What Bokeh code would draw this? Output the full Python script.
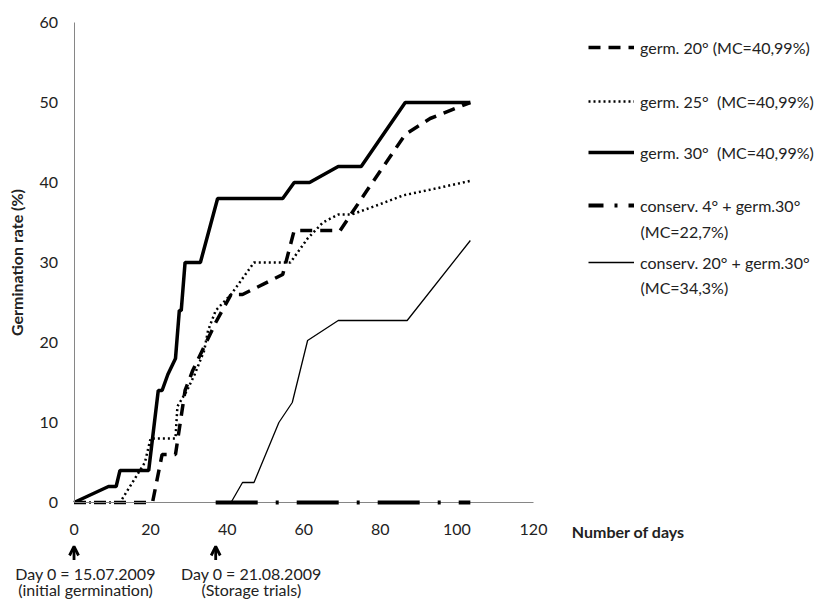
from bokeh.plotting import figure
from bokeh.models import (Range1d, Legend, LegendItem, Label, Arrow, OpenHead,
                          LinearAxis, FixedTicker)
from bokeh.embed import file_html
from bokeh.resources import INLINE

# ---- data ----
days_g20 = [0, 20.5, 23, 26.5, 29, 31, 37, 41, 44, 54.5, 57.5, 69.5, 76.5, 86.5, 93, 103.5]
rate_g20 = [0, 0, 6, 6, 14, 16.5, 22.5, 26, 26, 28.5, 34, 34, 39, 46, 48, 50]

days_g25 = [0, 12, 18.5, 20, 26.5, 27, 29.5, 31.5, 34, 35, 37, 41, 47, 56.5, 61, 65, 69, 72.5, 80, 86, 94, 103.5]
rate_g25 = [0, 0, 5, 8, 8, 12, 14, 16, 19, 21.5, 24, 26, 30, 30, 33, 35, 36, 36, 37.3, 38.4, 39.2, 40.2]

days_g30 = [0, 9, 11, 12, 19.5, 20.5, 22, 23, 24.5, 26.5, 27.5, 28, 29, 33, 37.5, 54.5, 57.5, 61.5, 69, 75, 86.5, 103.5]
rate_g30 = [0, 2, 2, 4, 4, 8, 14, 14, 16, 18, 24, 24, 30, 30, 38, 38, 40, 40, 42, 42, 50, 50]

days_c4 = [37, 44, 47, 53.5, 57, 61, 69, 87, 103.5]
rate_c4 = [0, 0, 0, 0, 0, 0, 0, 0, 0]

days_c20 = [37, 41, 44, 47, 53.5, 57, 61, 69, 87, 103.5]
rate_c20 = [0, 0, 2.5, 2.5, 10, 12.5, 20.25, 22.75, 22.75, 32.75]

x_ticks = [0, 20, 40, 60, 80, 100, 120]
y_ticks = [0, 10, 20, 30, 40, 50, 60]

labels = ["germ. 20° (MC=40,99%)",
          "germ. 25°  (MC=40,99%)",
          "germ. 30°  (MC=40,99%)",
          "conserv. 4° + germ.30°",
          "conserv. 20° + germ.30°"]
labels_2nd = ["(MC=22,7%)", "(MC=34,3%)"]

day0_x = [0, 37]
day0_line1 = ["Day 0 = 15.07.2009", "Day 0 = 21.08.2009"]
day0_line2 = ["(initial germination)", "(Storage trials)"]

FONT = "Lato"
TXT = "#222222"
NAN = float("nan")

# The frame covers the whole canvas; the axes sit at fixed data locations so that
# texts placed outside the axes (legend, notes) are not clipped.
p = figure(frame_width=816, frame_height=600, output_backend="svg", toolbar_location=None,
           x_range=Range1d(-19.2, 193.9), y_range=Range1d(-12.25, 62.75),
           x_axis_location=None, y_axis_location=None,
           min_border_left=0, min_border_right=0, min_border_top=0, min_border_bottom=0)

p.xgrid.grid_line_color = None
p.ygrid.grid_line_color = None
p.outline_line_color = None
p.background_fill_color = "white"

xa = LinearAxis(fixed_location=0, bounds=(0, 120), ticker=FixedTicker(ticks=x_ticks))
ya = LinearAxis(fixed_location=0, bounds=(0, 60), ticker=FixedTicker(ticks=y_ticks))
for ax in (xa, ya):
    ax.axis_line_color = "#868686"
    ax.axis_line_width = 1
    ax.major_tick_line_color = None
    ax.minor_tick_line_color = None
    ax.major_tick_out = 0
    ax.major_tick_in = 0
    ax.major_label_text_font = FONT
    ax.major_label_text_font_size = "16px"
    ax.major_label_text_color = TXT
xa.major_label_standoff = 21
ya.major_label_standoff = 16
ya.axis_label = "Germination rate (%)"
ya.axis_label_text_font = FONT
ya.axis_label_text_font_style = "bold"
ya.axis_label_text_font_size = "16px"
ya.axis_label_text_color = TXT
ya.axis_label_standoff = 11
p.add_layout(xa, "below")
p.add_layout(ya, "left")

# ---- series ----
r5 = p.line(days_c20, rate_c20, line_color="black", line_width=1.3)
r4 = p.line(days_c4, rate_c4, line_color="black", line_width=4, line_dash="42 18 3 18",
            level="overlay")
r2 = p.line(days_g25, rate_g25, line_color="black", line_width=2.5, line_dash="2 3")
r1 = p.line(days_g20, rate_g20, line_color="black", line_width=3.5, line_dash="12 8")
r3 = p.line(days_g30, rate_g30, line_color="black", line_width=3.5)

# legend-only sample for the dash-dot series (shorter pattern as in the reference);
# it draws nothing in the plot area
r4_leg = p.line([NAN], [NAN], line_color="black", line_width=4, line_dash="15 11 3 11")

# ---- legend (one box per entry, right of the plot area) ----
leg_rends = [r1, r2, r3, r4_leg, r5]
leg_y = [543, 489, 438, 385, 328]
for rend, lab, vy in zip(leg_rends, labels, leg_y):
    leg = Legend(items=[LegendItem(label=lab, renderers=[rend])], location=(588, vy),
                 border_line_color=None, background_fill_alpha=0, padding=0, margin=0,
                 spacing=0, glyph_width=46, glyph_height=20, label_height=20,
                 label_standoff=6, label_text_font=FONT, label_text_font_size="16px",
                 label_text_color=TXT)
    p.add_layout(leg)

for txt, sy in zip(labels_2nd, [369, 313]):
    p.add_layout(Label(x=640, y=sy, x_units="screen", y_units="screen", text=txt,
                       text_font=FONT, text_font_size="16px", text_color=TXT,
                       text_baseline="middle", text_align="left"))

# ---- x axis title, right of the axis ----
p.add_layout(Label(x=130, y=-3.6, text="Number of days", text_font=FONT,
                   text_font_size="16px", text_font_style="bold", text_color=TXT,
                   text_baseline="middle", text_align="left"))

# ---- day-0 markers ----
for xd, l1, l2 in zip(day0_x, day0_line1, day0_line2):
    p.add_layout(Arrow(end=OpenHead(size=9, line_width=2.8, line_color="black"),
                       x_start=xd, y_start=-7.2, x_end=xd, y_end=-5.5,
                       line_width=2.8, line_color="black"))
    xc = xd + 3 if xd == 0 else xd + 9.3
    p.add_layout(Label(x=xc, y=-8.85, text=l1, text_font=FONT, text_font_size="16px",
                       text_color=TXT, text_align="center", text_baseline="middle"))
    p.add_layout(Label(x=xc, y=-10.9, text=l2, text_font=FONT, text_font_size="16px",
                       text_color=TXT, text_align="center", text_baseline="middle"))

open("out.html", "w").write(file_html(p, INLINE))
